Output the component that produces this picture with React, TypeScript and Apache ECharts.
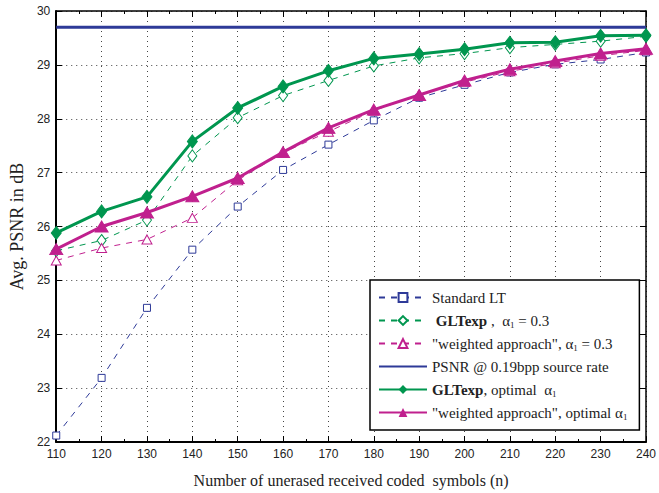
import React, { useEffect, useRef } from "react";
import * as echarts from "echarts";

const xValues = [110, 120, 130, 140, 150, 160, 170, 180, 190, 200, 210, 220, 230, 240];
const standardLT = [22.12, 23.19, 24.49, 25.57, 26.37, 27.05, 27.52, 27.97, 28.39, 28.63, 28.86, 29.01, 29.1, 29.23];
const gltAlpha03 = [25.55, 25.74, 26.12, 27.31, 28.02, 28.43, 28.71, 28.98, 29.13, 29.21, 29.32, 29.38, 29.44, 29.53];
const weightedAlpha03 = [25.37, 25.6, 25.76, 26.16, 26.86, 27.37, 27.76, 28.15, 28.45, 28.68, 28.88, 29.03, 29.17, 29.27];
const psnrSourceRate = 29.7;
const gltOptimal = [25.88, 26.28, 26.55, 27.58, 28.2, 28.6, 28.89, 29.12, 29.2, 29.29, 29.41, 29.42, 29.54, 29.55];
const weightedOptimal = [25.58, 26.0, 26.26, 26.56, 26.9, 27.38, 27.83, 28.17, 28.44, 28.71, 28.92, 29.07, 29.21, 29.3];

const BLUE = "#2e3a98";
const GREEN = "#00964f";
const MAGENTA = "#c0208e";

const names = {
  lt: "Standard LT",
  g03: "GLTexp, a1 = 0.3",
  w03: "weighted approach, a1 = 0.3",
  psnr: "PSNR @ 0.19bpp source rate",
  gopt: "GLTexp, optimal a1",
  wopt: "weighted approach, optimal a1",
};

const legendLabels: Record<string, string> = {
  [names.lt]: "Standard LT",
  [names.g03]: " {b|GLTexp} ,  α{sub|1} = 0.3",
  [names.w03]: "\"weighted approach\", α{sub|1} = 0.3",
  [names.psnr]: "PSNR @ 0.19bpp source rate",
  [names.gopt]: "{b|GLTexp}, optimal  α{sub|1}",
  [names.wopt]: "\"weighted approach\", optimal α{sub|1}",
};

const pairs = (ys: number[]) => xValues.map((x, i) => [x, ys[i]]);

export default function App() {
  const ref = useRef<HTMLDivElement>(null);
  useEffect(() => {
    if (!ref.current) return;
    const chart = echarts.init(ref.current, null, { renderer: "svg" });
    const serif = "Liberation Serif";
    const sans = "Liberation Sans";
    const tickCommon = {
      axisTick: { show: true, inside: true, length: 6, lineStyle: { color: "#000", width: 1 } },
    };
    chart.setOption({
      animation: false,
      backgroundColor: "#fff",
      grid: { left: 44, right: 9, top: 11, bottom: 45, containLabel: false },
      xAxis: [
        {
          type: "value",
          min: 110,
          max: 240,
          interval: 10,
          position: "bottom",
          name: "Number of unerased received coded  symbols (n)",
          nameLocation: "middle",
          nameGap: 30,
          nameTextStyle: { fontFamily: serif, fontSize: 16, color: "#222" },
          axisLine: { show: true, lineStyle: { color: "#000", width: 2 } },
          ...tickCommon,
          minorTick: { show: true, splitNumber: 2, length: 3, lineStyle: { color: "#000" } },
          axisLabel: { fontFamily: sans, fontSize: 12, color: "#222", margin: 6 },
          splitLine: { show: true, lineStyle: { type: [1, 4], color: "#444", width: 1 } },
        },
        {
          type: "value",
          min: 110,
          max: 240,
          interval: 10,
          position: "top",
          axisLine: { show: true, lineStyle: { color: "#000", width: 1.5 } },
          ...tickCommon,
          minorTick: { show: true, splitNumber: 2, length: 3, lineStyle: { color: "#000" } },
          axisLabel: { show: false },
          splitLine: { show: false },
        },
      ],
      yAxis: [
        {
          type: "value",
          min: 22,
          max: 30,
          interval: 1,
          position: "left",
          name: "Avg. PSNR in dB",
          nameLocation: "middle",
          nameGap: 22,
          nameTextStyle: { fontFamily: serif, fontSize: 18, color: "#222", padding: [0, 0, 0, 0] },
          axisLine: { show: true, lineStyle: { color: "#000", width: 2 } },
          ...tickCommon,
          axisLabel: { fontFamily: sans, fontSize: 12, color: "#222", margin: 6 },
          splitLine: { show: true, lineStyle: { type: [1, 4], color: "#444", width: 1 } },
        },
        {
          type: "value",
          min: 22,
          max: 30,
          interval: 1,
          position: "right",
          axisLine: { show: true, lineStyle: { color: "#000", width: 1.5 } },
          ...tickCommon,
          axisLabel: { show: false },
          splitLine: { show: false },
        },
      ],
      legend: {
        orient: "vertical",
        left: 370,
        top: 280,
        backgroundColor: "#fff",
        borderColor: "#000",
        borderWidth: 1.5,
        padding: [9, 12, 9, 8],
        itemGap: 6,
        itemWidth: 48,
        itemHeight: 11,
        data: [names.lt, names.g03, names.w03, names.psnr, names.gopt, names.wopt],
        formatter: (n: string) => legendLabels[n] || n,
        textStyle: {
          fontFamily: serif,
          fontSize: 15,
          color: "#222",
          lineHeight: 17,
          rich: {
            b: { fontFamily: serif, fontSize: 15, fontWeight: "bold", color: "#222", lineHeight: 17 },
            sub: { fontFamily: serif, fontSize: 9, color: "#222", verticalAlign: "bottom", lineHeight: 17, padding: [6, 0, 0, 0] },
          },
        },
      },
      series: [
        {
          name: names.lt,
          type: "line",
          data: pairs(standardLT),
          symbol: "rect",
          symbolSize: 7,
          lineStyle: { color: BLUE, width: 1, type: [6, 6] },
          itemStyle: { color: "#fff", borderColor: BLUE, borderWidth: 1 },
          z: 2,
        },
        {
          name: names.g03,
          type: "line",
          data: pairs(gltAlpha03),
          symbol: "diamond",
          symbolSize: [9, 12],
          lineStyle: { color: GREEN, width: 1, type: [6, 6] },
          itemStyle: { color: "#fff", borderColor: GREEN, borderWidth: 1 },
          z: 2,
        },
        {
          name: names.w03,
          type: "line",
          data: pairs(weightedAlpha03),
          symbol: "triangle",
          symbolSize: [10, 9],
          lineStyle: { color: MAGENTA, width: 1, type: [6, 6] },
          itemStyle: { color: "#fff", borderColor: MAGENTA, borderWidth: 1 },
          z: 2,
        },
        {
          name: names.psnr,
          type: "line",
          data: xValues.map((x) => [x, psnrSourceRate]),
          symbol: "none",
          lineStyle: { color: BLUE, width: 3 },
          itemStyle: { color: "rgba(0,0,0,0)", borderColor: "rgba(0,0,0,0)", opacity: 0 },
          z: 3,
        },
        {
          name: names.gopt,
          type: "line",
          data: pairs(gltOptimal),
          symbol: "diamond",
          symbolSize: [10, 13],
          lineStyle: { color: GREEN, width: 3 },
          itemStyle: { color: GREEN, borderColor: GREEN },
          z: 4,
        },
        {
          name: names.wopt,
          type: "line",
          data: pairs(weightedOptimal),
          symbol: "triangle",
          symbolSize: [13, 11],
          lineStyle: { color: MAGENTA, width: 3 },
          itemStyle: { color: MAGENTA, borderColor: MAGENTA },
          z: 5,
        },
      ],
    });
    return () => chart.dispose();
  }, []);
  return <div ref={ref} style={{ width: 659, height: 493, position: "absolute", left: 0, top: 0 }} />;
}
